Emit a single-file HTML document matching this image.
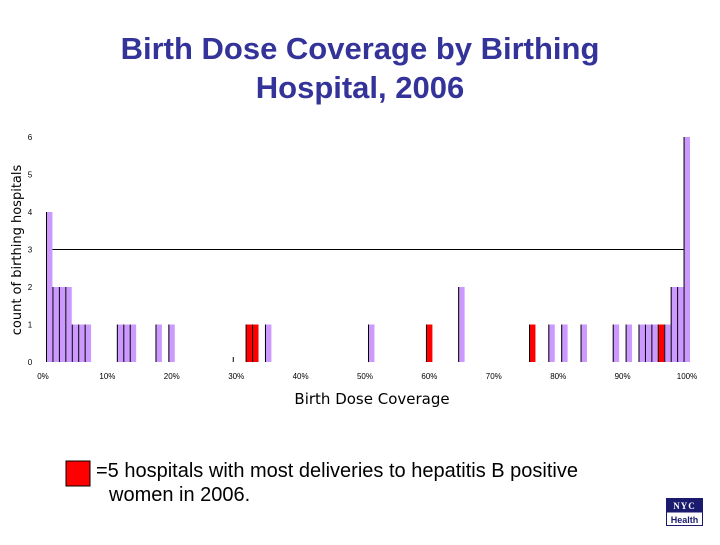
<!DOCTYPE html>
<html><head><meta charset="utf-8"><style>
body{margin:0;background:#fff;width:720px;height:540px;overflow:hidden;font-family:"Liberation Sans",sans-serif}
</style></head><body>
<svg width="720" height="540" xmlns="http://www.w3.org/2000/svg">
<text x="360" y="59" text-anchor="middle" font-size="31" font-weight="bold" fill="#333399">Birth Dose Coverage by Birthing</text>
<text x="360" y="98" text-anchor="middle" font-size="31" font-weight="bold" fill="#333399">Hospital, 2006</text>
<g id="yticks"></g><g id="xticks"></g><g id="bars"></g>
<text transform="translate(21,250) rotate(-90)" text-anchor="middle" font-size="13" fill="#000" font-family="DejaVu Sans">count of birthing hospitals</text>
<text x="372" y="404" text-anchor="middle" font-size="15" font-family="DejaVu Sans">Birth Dose Coverage</text>
<rect x="66" y="461" width="24" height="25" fill="#ff0000" stroke="#000"/>
<text x="96" y="477" font-size="20" textLength="482">=5 hospitals with most deliveries to hepatitis B positive</text>
<text x="109" y="501" font-size="20">women in 2006.</text>
<g>
<rect x="666" y="498" width="37" height="14" fill="#1a1a6e"/>
<rect x="666.5" y="512" width="36" height="13.5" fill="#fff" stroke="#1a1a6e"/>
<text x="684.5" y="509" text-anchor="middle" font-size="9" font-family="Liberation Serif" font-weight="bold" fill="#fff" letter-spacing="1">NYC</text>
<text x="684.5" y="523" text-anchor="middle" font-size="9" font-weight="bold" fill="#1a1a6e">Health</text>
</g>
</svg>
<script>
const binIndex=[0,1,2,3,4,5,6,11,12,13,17,19,29,31,32,34,50,59,64,75,78,80,83,88,90,92,93,94,95,96,97,98,99];
const binCount=[4,2,2,2,1,1,1,1,1,1,1,1,0,1,1,1,1,1,2,1,1,1,1,1,1,1,1,1,1,1,2,2,6];
const binRed=[0,0,0,0,0,0,0,0,0,0,0,0,0,1,1,0,0,1,0,1,0,0,0,0,0,0,0,0,1,0,0,0,0];
const yTicks=[0,1,2,3,4,5,6];
const xTicks=["0%","10%","20%","30%","40%","50%","60%","70%","80%","90%","100%"];
const refLine=3;
const NS="http://www.w3.org/2000/svg";
const x0=46,x1=690,y0=362,yTop=137;
const xs=b=>x0+b*(x1-x0)/100;
const ys=v=>y0-v*(y0-yTop)/6;
const bw=(x1-x0)/100;
function mk(t,a,p){const e=document.createElementNS(NS,t);for(const k in a)e.setAttribute(k,a[k]);p.appendChild(e);return e;}
const yt=document.getElementById('yticks');
yTicks.forEach(v=>{const t=mk('text',{x:30,y:ys(v)+3,'font-size':8,'text-anchor':'middle'},yt);t.textContent=v;

});
const xt=document.getElementById('xticks');
xTicks.forEach((l,i)=>{const t=mk('text',{x:xs(i*10)-3,y:379,'font-size':8,'text-anchor':'middle'},xt);t.textContent=l;

});
const bars=document.getElementById('bars');
const hl=mk('line',{x1:x0,x2:xs(99),y1:ys(refLine),y2:ys(refLine),stroke:'#000','stroke-width':1},bars);


binIndex.forEach((b,i)=>{const v=binCount[i];const x=xs(b);
if(v>0){const r=mk('rect',{x:x,y:ys(v),width:bw,height:ys(0)-ys(v),fill:binRed[i]?'#ff0000':'#cc99ff'},bars);

}
const l=mk('line',{x1:x+0.5,x2:x+0.5,y1:ys(v),y2:ys(0),stroke:'#000','stroke-width':1},bars);
if(v===0)l.setAttribute('y1',ys(0)-5);


});
</script>
</body></html>
